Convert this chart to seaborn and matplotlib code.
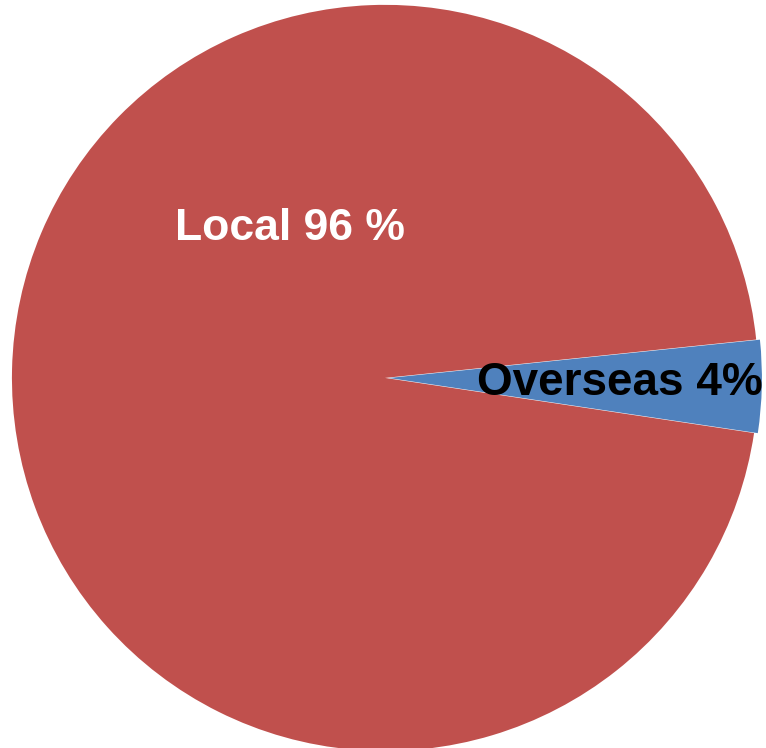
import seaborn as sns
import matplotlib.pyplot as plt

# market share data
categories = ["Local", "Overseas"]
shares = [96, 4]
labels = ["Local 96 %", "Overseas 4%"]
colors = ["#C0504D", "#4F81BD"]

sns.set_theme(style="white")
plt.rcParams['font.family'] = ['Liberation Sans', 'DejaVu Sans']

fig = plt.figure(figsize=(7.66, 7.48), dpi=100)
ax = fig.add_axes([0, 0, 1, 1])

# Local starts just above the horizontal, overseas slice sits on the right
ax.pie(shares, colors=colors, startangle=5.9, counterclock=True,
       explode=[0, 0.01], wedgeprops=dict(linewidth=0))

ax.text(-0.255, 0.40, labels[0], color='white', fontsize=32, fontweight='bold',
        ha='center', va='center')
ax.text(0.63, -0.013, labels[1], color='black', fontsize=33, fontweight='bold',
        ha='center', va='center')

ax.set_xlim(-1.032, 1.021)
ax.set_ylim(-0.992, 1.013)
ax.set_aspect('auto')
ax.axis('off')

plt.savefig('out.png', dpi=100, facecolor='white')
